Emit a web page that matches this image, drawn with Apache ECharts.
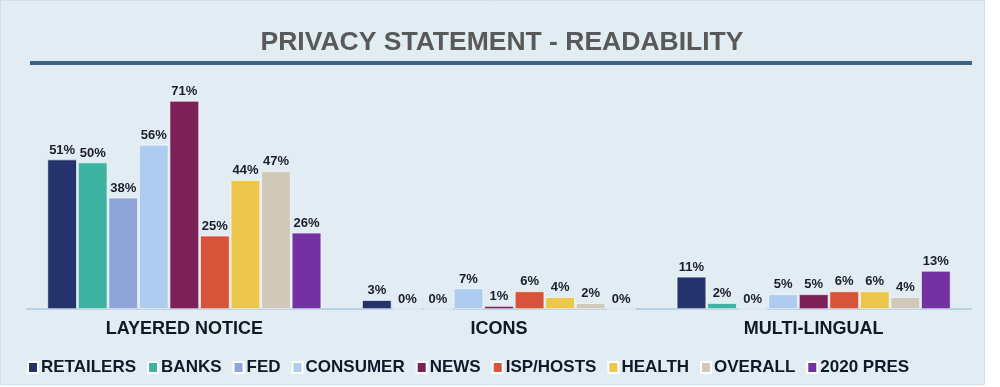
<!DOCTYPE html>
<html><head><meta charset="utf-8">
<script src="https://cdn.jsdelivr.net/npm/echarts@6/dist/echarts.min.js"></script>
<style>html,body{margin:0;padding:0;background:#fff;}#c{width:1000px;height:387px;}</style>
</head><body><div id="c"></div>
<script>
const categories = ['LAYERED NOTICE', 'ICONS', 'MULTI-LINGUAL'];
const seriesNames = ['RETAILERS', 'BANKS', 'FED', 'CONSUMER', 'NEWS', 'ISP/HOSTS', 'HEALTH', 'OVERALL', '2020 PRES'];
const retailers = [51, 3, 11];
const banks = [50, 0, 2];
const fed = [38, 0, 0];
const consumer = [56, 7, 5];
const news = [71, 1, 5];
const ispHosts = [25, 6, 6];
const health = [44, 4, 6];
const overall = [47, 2, 4];
const pres2020 = [26, 0, 13];
const seriesData = [retailers, banks, fed, consumer, news, ispHosts, health, overall, pres2020];
const colors = ['#24336b', '#3fb3a1', '#8fa4d8', '#aecbf0', '#7b2158', '#d6553a', '#ecc74b', '#d0c9b9', '#7331a1'];
const FONT = '"Liberation Sans", sans-serif';

const chart = echarts.init(document.getElementById('c'));
chart.setOption({
  animation: false,
  backgroundColor: '#ffffff',
  textStyle: {fontFamily: FONT},
  graphic: [
    {type: 'rect', z: -10, shape: {x: 0.5, y: 0.5, width: 984, height: 384}, style: {fill: '#e1ecf3', stroke: '#cfdfeb', lineWidth: 1}},
    {type: 'rect', z: 0, shape: {x: 30, y: 61, width: 942, height: 4}, style: {fill: '#3b6287'}}
  ],
  title: {
    text: 'PRIVACY STATEMENT - READABILITY',
    left: 497, top: 24, textAlign: 'center',
    textStyle: {fontFamily: FONT, fontSize: 26.5, fontWeight: 'bold', color: '#595959'}
  },
  legend: {
    left: 22, top: 354, itemWidth: 10, itemHeight: 11, itemGap: 11,
    icon: 'rect',
    textStyle: {fontFamily: FONT, fontSize: 17, fontWeight: 'bold', color: '#111827', padding: [0, 0, 0, -2]},
    data: seriesNames
  },
  grid: {left: 27, right: 29, top: 74.6, bottom: 78},
  xAxis: {
    type: 'category', data: categories,
    axisLine: {lineStyle: {color: '#b8d0e4', width: 2}},
    axisTick: {show: false},
    axisLabel: {fontFamily: FONT, fontSize: 18, fontWeight: 'bold', color: '#111827', margin: 11}
  },
  yAxis: {type: 'value', min: 0, max: 80, show: false, splitLine: {show: false}},
  series: seriesNames.map((n, i) => ({
    name: n, type: 'bar', data: seriesData[i],
    barGap: '4%', barCategoryGap: '13%',
    itemStyle: {color: colors[i], borderColor: '#ffffff', borderWidth: 0.6},
    label: {show: true, position: 'top', distance: 3, formatter: '{c}%',
      fontFamily: FONT, fontSize: 13, fontWeight: 'bold', color: '#1c1c2c'}
  }))
});
</script></body></html>
